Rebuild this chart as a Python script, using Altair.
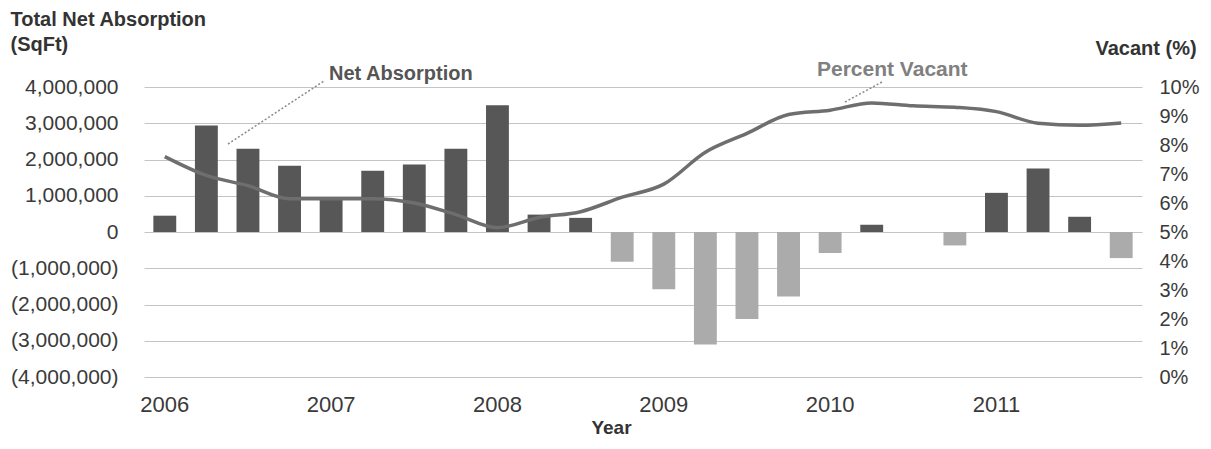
import altair as alt
import pandas as pd

quarters = [
    "2006 Q1", "2006 Q2", "2006 Q3", "2006 Q4",
    "2007 Q1", "2007 Q2", "2007 Q3", "2007 Q4",
    "2008 Q1", "2008 Q2", "2008 Q3", "2008 Q4",
    "2009 Q1", "2009 Q2", "2009 Q3", "2009 Q4",
    "2010 Q1", "2010 Q2", "2010 Q3", "2010 Q4",
    "2011 Q1", "2011 Q2", "2011 Q3", "2011 Q4",
]
absorption = [
    450000, 2940000, 2300000, 1830000,
    900000, 1690000, 1860000, 2300000,
    3500000, 480000, 390000, -820000,
    -1580000, -3100000, -2400000, -1780000,
    -580000, 200000, 0, -370000,
    1080000, 1750000, 420000, -720000,
]
vacancy = [
    7.6, 6.95, 6.6, 6.15,
    6.15, 6.15, 6.0, 5.6,
    5.15, 5.5, 5.7, 6.2,
    6.65, 7.75, 8.4, 9.05,
    9.2, 9.45, 9.35, 9.3,
    9.15, 8.75, 8.68, 8.76,
]
left_ticks = [-4000000, -3000000, -2000000, -1000000, 0, 1000000, 2000000, 3000000, 4000000]
right_ticks = [0, 1, 2, 3, 4, 5, 6, 7, 8, 9, 10]

df = pd.DataFrame({"quarter": quarters, "absorption": absorption, "vacancy": vacancy})

FONT = "Liberation Sans"
LABEL_COLOR = "#3a3a3a"
TITLE_COLOR = "#333333"

x_enc = alt.X(
    "quarter:N",
    sort=quarters,
    scale=alt.Scale(paddingInner=0.45, paddingOuter=0.225),
    axis=alt.Axis(
        labelExpr="slice(datum.label, 5) == 'Q1' ? slice(datum.label, 0, 4) : ''",
        labelAngle=0,
        labelOverlap=False,
        ticks=False,
        domain=False,
        grid=False,
        labelFont=FONT,
        labelFontSize=22,
        labelColor=LABEL_COLOR,
        labelPadding=17,
        title="Year",
        titleFont=FONT,
        titleFontSize=19,
        titleFontWeight="bold",
        titleColor=TITLE_COLOR,
        titleX=467,
        titleY=56,
        titleAlign="center",
        titleBaseline="alphabetic",
    ),
)

bars = alt.Chart(df).mark_bar().encode(
    x=x_enc,
    y=alt.Y(
        "absorption:Q",
        scale=alt.Scale(domain=[-4000000, 4000000], nice=False),
        axis=alt.Axis(
            values=left_ticks,
            labelExpr="datum.value < 0 ? '(' + format(-datum.value, ',') + ')' : format(datum.value, ',')",
            grid=True,
            gridColor="#c4c4c4",
            gridWidth=1,
            domain=False,
            ticks=False,
            labelFont=FONT,
            labelFontSize=21,
            labelColor=LABEL_COLOR,
            labelPadding=26,
            title=["Total Net Absorption", "(SqFt)"],
            titleFont=FONT,
            titleFontSize=20,
            titleFontWeight="bold",
            titleColor=TITLE_COLOR,
            titleAngle=0,
            titleAlign="left",
            titleBaseline="alphabetic",
            titleLineHeight=25,
            titleX=-134,
            titleY=-62,
        ),
    ),
    color=alt.condition(alt.datum.absorption > 0, alt.value("#575757"), alt.value("#ababab")),
)

line = alt.Chart(df).mark_line(color="#6e6e6e", strokeWidth=3.5, interpolate="monotone").encode(
    x=x_enc,
    y=alt.Y(
        "vacancy:Q",
        scale=alt.Scale(domain=[0, 10], nice=False),
        axis=alt.Axis(
            orient="right",
            values=right_ticks,
            labelExpr="datum.value + '%'",
            grid=False,
            domain=False,
            ticks=False,
            labelFont=FONT,
            labelFontSize=20,
            labelColor=LABEL_COLOR,
            labelPadding=17,
            title="Vacant (%)",
            titleFont=FONT,
            titleFontSize=20,
            titleFontWeight="bold",
            titleColor=TITLE_COLOR,
            titleAngle=0,
            titleAlign="left",
            titleBaseline="alphabetic",
            titleX=-47,
            titleY=-33,
        ),
    ),
)

one = pd.DataFrame({"t": ["Net Absorption"]})
one2 = pd.DataFrame({"t": ["Percent Vacant"]})

na_text = alt.Chart(one).mark_text(
    font=FONT, fontSize=20, fontWeight="bold", color="#555555", align="left", baseline="alphabetic"
).encode(text="t:N", x=alt.value(185), y=alt.value(-7))

pv_text = alt.Chart(one2).mark_text(
    font=FONT, fontSize=21, fontWeight="bold", color="#808080", align="left", baseline="alphabetic"
).encode(text="t:N", x=alt.value(673), y=alt.value(-11))

na_leader = alt.Chart(one).mark_rule(color="#8a8a8a", strokeWidth=1.5, strokeDash=[2, 2]).encode(
    x=alt.value(84), y=alt.value(57), x2=alt.value(180), y2=alt.value(-6)
)
pv_leader = alt.Chart(one2).mark_rule(color="#8a8a8a", strokeWidth=1.5, strokeDash=[2, 2]).encode(
    x=alt.value(701), y=alt.value(15), x2=alt.value(738), y2=alt.value(-5)
)

chart = (
    alt.layer(bars, line, na_leader, pv_leader, na_text, pv_text)
    .resolve_scale(y="independent")
    .properties(
        width=998,
        height=290,
        autosize=alt.AutoSizeParams(type="none"),
        padding={"left": 136, "top": 79, "right": 61, "bottom": 62},
        background="white",
    )
    .configure_view(strokeWidth=0)
)

chart.save("out.html", embed_options={"renderer": "svg", "actions": False})
